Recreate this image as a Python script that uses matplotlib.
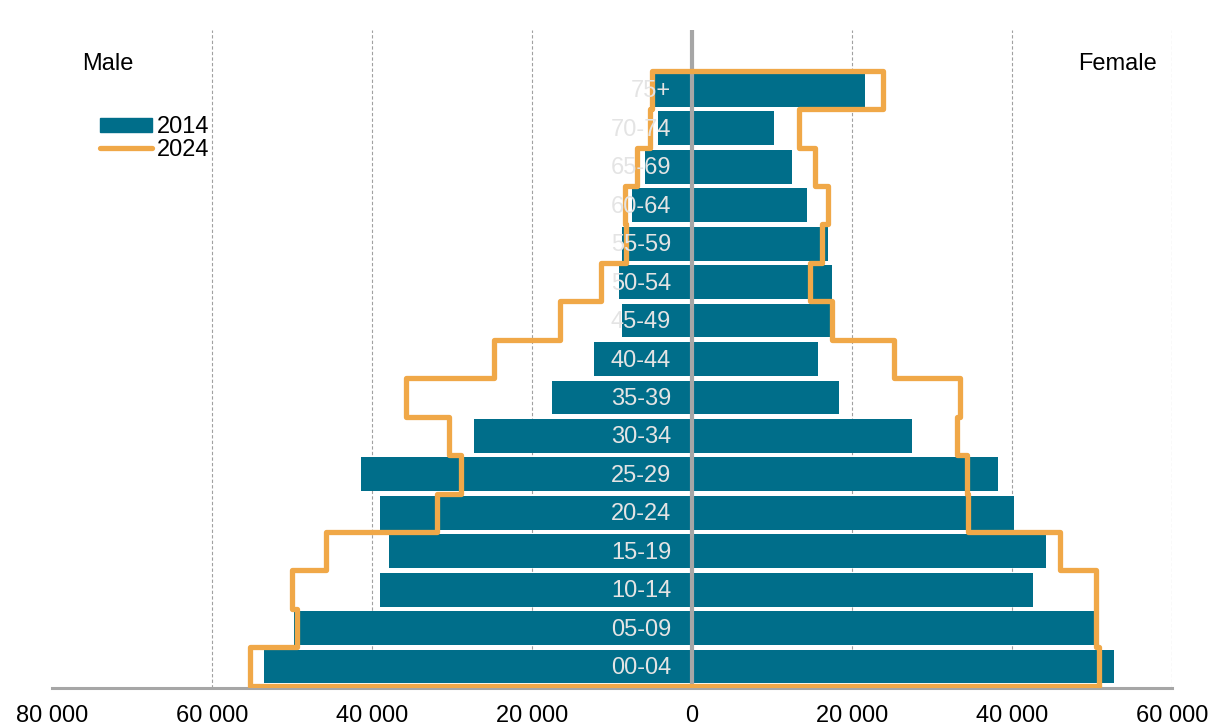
import numpy as np
import matplotlib.pyplot as plt
from matplotlib.patches import Patch
from matplotlib.lines import Line2D
from matplotlib.ticker import FuncFormatter

plt.rcParams['font.family'] = ['Liberation Sans', 'DejaVu Sans']

# Age groups, bottom to top
ages = ['00-04', '05-09', '10-14', '15-19', '20-24', '25-29', '30-34', '35-39',
        '40-44', '45-49', '50-54', '55-59', '60-64', '65-69', '70-74', '75+']

# Population 2014 (bars)
male_2014 = [53500, 49800, 39000, 37900, 39000, 41400, 27300, 17500,
             12300, 8700, 9100, 8800, 7500, 5900, 4300, 4700]
female_2014 = [52700, 50200, 42600, 44300, 40300, 38200, 27500, 18400,
               15700, 17200, 17500, 17000, 14400, 12500, 10300, 21600]

# Population 2024 (outline)
male_2024 = [55200, 49400, 50000, 45800, 31900, 28900, 30400, 35700,
             24700, 16500, 11400, 8200, 8400, 6900, 5200, 5000]
female_2024 = [50900, 50500, 50500, 46000, 34500, 34400, 33100, 33500,
               25300, 17500, 14800, 16200, 17000, 15400, 13400, 23900]

x_ticks = [-80000, -60000, -40000, -20000, 0, 20000, 40000, 60000]

teal = '#006e8a'
orange = '#f0a848'
gray = '#a6a6a6'

fig = plt.figure(figsize=(12.25, 7.27), dpi=100)
ax = fig.add_axes([52 / 1225, 1 - 688 / 727, 1120 / 1225, 658 / 727])

y = np.arange(len(ages))

# 2014 bars
ax.barh(y, -np.array(male_2014), height=0.88, color=teal, zorder=2)
ax.barh(y, female_2014, height=0.88, color=teal, zorder=2)

# 2024 step outline (closed polygon)
px, py = [], []
for i, v in enumerate(female_2024):
    px += [v, v]
    py += [i - 0.5, i + 0.5]
for i in range(len(male_2024) - 1, -1, -1):
    v = -male_2024[i]
    px += [v, v]
    py += [i + 0.5, i - 0.5]
px.append(px[0])
py.append(py[0])
ax.plot(px, py, color=orange, lw=3.8, solid_joinstyle='round',
        solid_capstyle='round', zorder=4)

# centre axis line
ax.axvline(0, color=gray, lw=3, zorder=3)

# dashed gridlines
for t in x_ticks:
    if t not in (0, -80000):
        ax.axvline(t, color='#a0a0a0', lw=0.8, ls=(0, (3, 2)), zorder=1)

# age labels
for i, a in enumerate(ages):
    ax.text(-2600, i - 0.04, a, ha='right', va='center', color='#e4e4e4',
            fontsize=17, zorder=5)

ax.set_xlim(-80000, 60000)
ax.set_ylim(-0.56, 16.56)
ax.set_xticks(x_ticks)
ax.xaxis.set_major_formatter(FuncFormatter(
    lambda v, p: f"{abs(int(v)):,}".replace(',', ' ')))
ax.tick_params(axis='x', length=0, pad=12, labelsize=17)
ax.set_yticks([])
for s in ['top', 'left', 'right']:
    ax.spines[s].set_visible(False)
ax.spines['bottom'].set_color(gray)
ax.spines['bottom'].set_linewidth(2.2)

fig.text(82 / 1225, 1 - 64 / 727, 'Male', fontsize=17, va='center', ha='left')
fig.text(1157 / 1225, 1 - 64 / 727, 'Female', fontsize=17, va='center', ha='right')

handles = [Patch(color=teal), Line2D([0], [0], color=orange, lw=3.8,
                                     solid_capstyle='round')]
ax.legend(handles, ['2014', '2024'], loc='upper left',
          bbox_to_anchor=(100 / 1225, 1 - 116 / 727),
          bbox_transform=fig.transFigure, frameon=False, fontsize=17,
          borderpad=0, borderaxespad=0, handlelength=2.2, handleheight=0.55,
          handletextpad=0.2, labelspacing=0.05)

fig.savefig('out.png', dpi=100)
